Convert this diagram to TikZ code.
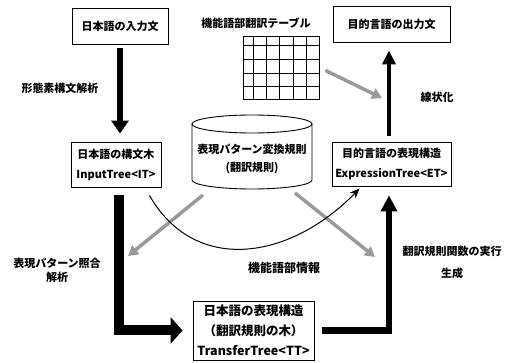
\documentclass[tikz,border=0pt]{standalone}
\usepackage{fontspec}
\setmainfont{Noto Sans CJK JP}[BoldFont={* Black}]
\usetikzlibrary{arrows.meta,calc}
\begin{document}
\begin{tikzpicture}[x=1pt,y=-1pt,
  font=\bfseries\fontsize{11}{20}\selectfont,
  box/.style={draw, line width=0.9pt, align=center, inner sep=0pt, fill=white},
  lbl/.style={align=center, inner sep=0pt},
  blk/.style={line join=miter, line cap=butt},
  gry/.style={draw=black!40, line width=3.5pt, -{Triangle[length=10pt,width=11pt]}},
]
\useasboundingbox (0,0) rectangle (515,363);
% boxes
\node[box, minimum width=96pt, minimum height=36pt] (in) at (120,26) {日本語の入力文};
\node[box, minimum width=117pt, minimum height=36pt] (out) at (391.5,24) {目的言語の出力文};
\node[box, minimum width=90pt, minimum height=45pt] (it) at (116,164.5) {日本語の構文木\\InputTree<IT>};
\node[box, minimum width=119pt, minimum height=44pt] (et) at (391.5,164) {目的言語の表現構造\\ExpressionTree<ET>};
\node[box, minimum width=121pt, minimum height=59pt, font=\bfseries\fontsize{12.5}{20}\selectfont] (tt) at (253.5,330.5) {日本語の表現構造\\（翻訳規則の木）\\TransferTree<TT>};
% table
\node[draw, line width=1pt, minimum width=76pt, minimum height=63pt, inner sep=0pt] (tbl) at (281,68.5) {};
\foreach \x in {253,266,279,293,306} \draw[line width=0.7pt] (\x,37) -- (\x,100);
\foreach \y in {45,59,73,86} \draw[line width=0.7pt] (243,\y) -- (319,\y);
\node[lbl] (ttl) at (256,23) {機能語部翻訳テーブル};
% cylinder
\draw[line width=0.9pt, fill=white] (192,124) -- (192,180) arc[start angle=180, end angle=0, x radius=60, y radius=9] -- (312,124);
\draw[line width=0.9pt] (252,124) ellipse [x radius=60, y radius=9];
\node[lbl, font=\bfseries\fontsize{11}{18}\selectfont] (cyl) at (252,159) {表現パターン変換規則\\(翻訳規則)};
% black arrows
\draw[blk, line width=6pt, -{Triangle[length=13pt,width=17pt]}] ($(in.south)+(0,4)$) -- ($(in.south |- it.north)+(0,-8)$);
\draw[blk, line width=4.5pt, -{Triangle[length=14pt,width=13pt]}] ($(et.north)+(-2.5,-6)$) -- ($(et.north |- out.south)+(-2.5,8)$);
\draw[blk, line width=10pt, -{Triangle[length=12pt,width=26pt]}] ($(it.south)+(3,8)$) |- ($(tt.west)+(-10,0)$);
\draw[blk, line width=6.5pt, -{Triangle[length=16pt,width=16pt]}] ($(tt.east)+(8,0)$) -| ($(et.south)+(-2.5,9)$);
% gray arrows
\coordinate (g1s) at (203,195); \coordinate (g1e) at (128,256);
\coordinate (g2s) at (295,193); \coordinate (g2e) at (375,257);
\coordinate (g3e) at (382,98);
\draw[gry] (g1s) -- (g1e);
\draw[gry] (g2s) -- (g2e);
\draw[gry] ($(tbl.east)+(6,2)$) -- (g3e);
% curve
\draw[line width=1pt, -{Stealth[length=10pt,width=8pt]}] ($(it.south east)+(-12,8)$) .. controls (195,275) and (290,260) .. ($(et.south west)+(28,2)$);
% labels
\node[lbl] (l1) at (60,88) {形態素構文解析};
\node[lbl] (l3) at (437,97) {線状化};
\node[lbl] (l4) at (57,270.5) {表現パターン照合\\[-6pt]解析};
\node[lbl, font=\bfseries\fontsize{12}{20}\selectfont] (l5) at (284,268) {機能語部情報};
\node[lbl] (l6) at (452,262.5) {翻訳規則関数の実行\\[2pt]生成};
\end{tikzpicture}
\end{document}
